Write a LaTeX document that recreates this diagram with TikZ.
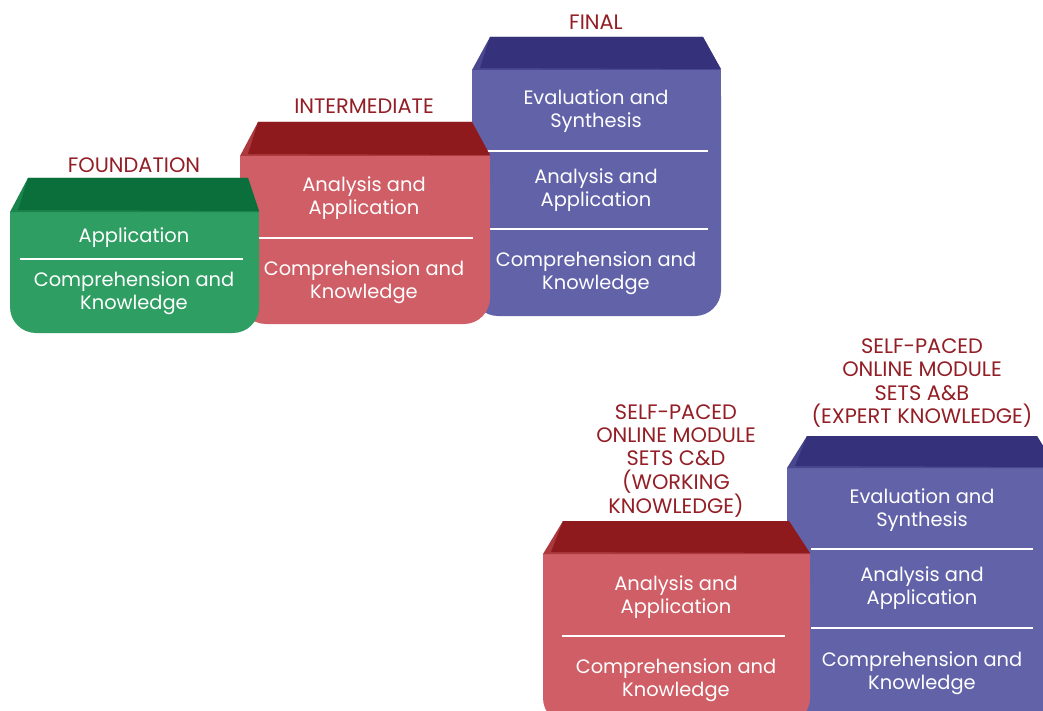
\documentclass[tikz,border=0pt]{standalone}
\usepackage{fontspec}
\setmainfont{Poppins}
\definecolor{gbody}{HTML}{2E9E63}
\definecolor{gtop}{HTML}{0A6F3A}
\definecolor{rbody}{HTML}{CF5E66}
\definecolor{rtop}{HTML}{8E1A1E}
\definecolor{bbody}{HTML}{6262A9}
\definecolor{btop}{HTML}{35317A}
\definecolor{lab}{HTML}{931E25}
\tikzset{
  boxtext/.style={text=white, align=center, font=\fontsize{19.5}{23.5}\selectfont, inner sep=0pt},
  lbl/.style={text=lab, align=center, font=\fontsize{21}{23.3}\selectfont, inner sep=0pt},
  sepline/.style={white, line width=2.5bp},
}
% x1 x2 ytop yt yb dxl dxr body top
\newcommand\stepcube[9]{%
  \fill[#8, rounded corners=26bp] (#1,#4) rectangle (#2,#5);
  \fill[#8] (#1,#4) rectangle (#2,#4+30);
  \fill[#9!55!#8] (#1,#4) -- (#1+#6,#3) -- (#2-#7,#3) -- (#2,#4) -- cycle;
  \fill[#9] (#1+#6,#3) -- (#2-#7,#3) -- (#2,#4-1) -- (#1+8,#4-2) -- cycle;
}
\begin{document}
\begin{tikzpicture}[x=1bp,y=-1bp]
\useasboundingbox (0,0) rectangle (1043,711);
\clip (0,0) rectangle (1043,711);
\fill[white] (0,0) rectangle (1043,711);

% ---- FINAL (blue, back)
\stepcube{472}{721}{37}{70}{316}{18}{18}{bbody}{btop}
\coordinate (f1a) at (487,151); \coordinate (f1b) at (708,151);
\coordinate (f2a) at (490,229); \coordinate (f2b) at (708,229);
\draw[sepline] (f1a) -- (f1b);
\draw[sepline] (f2a) -- (f2b);
\node[boxtext] (fin3) at (596,111) {Evaluation and\\Synthesis};
\node[boxtext] (fin2) at (596,190) {Analysis and\\Application};
\node[boxtext] (fin1) at (596,273) {Comprehension and\\Knowledge};
\node[lbl] (finl) at (596,22) {FINAL};

% ---- INTERMEDIATE (red)
\stepcube{240}{490}{122}{156}{324}{18}{18}{rbody}{rtop}
\coordinate (i1a) at (257,238); \coordinate (i1b) at (473,238);
\draw[sepline] (i1a) -- (i1b);
\node[boxtext] (int2) at (364,198) {Analysis and\\Application};
\node[boxtext] (int1) at (364,282) {Comprehension and\\Knowledge};
\node[lbl] (intl) at (364,106) {INTERMEDIATE};

% ---- FOUNDATION (green, front)
\stepcube{10}{259}{178}{212}{333}{18}{11}{gbody}{gtop}
\coordinate (g1a) at (20,259); \coordinate (g1b) at (243,259);
\draw[sepline] (g1a) -- (g1b);
\node[boxtext] (fou2) at (134,238) {Application};
\node[boxtext] (fou1) at (134,293) {Comprehension and\\Knowledge};
\node[lbl] (foul) at (134,165) {FOUNDATION};

% ---- SELF-PACED A&B (blue, back)
\stepcube{787}{1056}{436}{468}{730}{20}{19}{bbody}{btop}
\coordinate (s1a) at (811,549); \coordinate (s1b) at (1033,549);
\coordinate (s2a) at (811,628); \coordinate (s2b) at (1033,628);
\draw[sepline] (s1a) -- (s1b);
\draw[sepline] (s2a) -- (s2b);
\node[boxtext] (ab3) at (922,510) {Evaluation and\\Synthesis};
\node[boxtext] (ab2) at (922,588) {Analysis and\\Application};
\node[boxtext] (ab1) at (922,673) {Comprehension and\\Knowledge};
\node[lbl] (abl) at (922,383) {SELF-PACED\\ONLINE MODULE\\SETS A\&B\\(EXPERT KNOWLEDGE)};

% ---- SELF-PACED C&D (red, front)
\stepcube{543}{810}{521}{554}{724}{20}{21}{rbody}{rtop}
\coordinate (c1a) at (562,636); \coordinate (c1b) at (785,636);
\draw[sepline] (c1a) -- (c1b);
\node[boxtext] (cd2) at (676,597) {Analysis and\\Application};
\node[boxtext] (cd1) at (676,680) {Comprehension and\\Knowledge};
\node[lbl] (cdl) at (676,461) {SELF-PACED\\ONLINE MODULE\\SETS C\&D\\(WORKING\\KNOWLEDGE)};
\end{tikzpicture}
\end{document}
